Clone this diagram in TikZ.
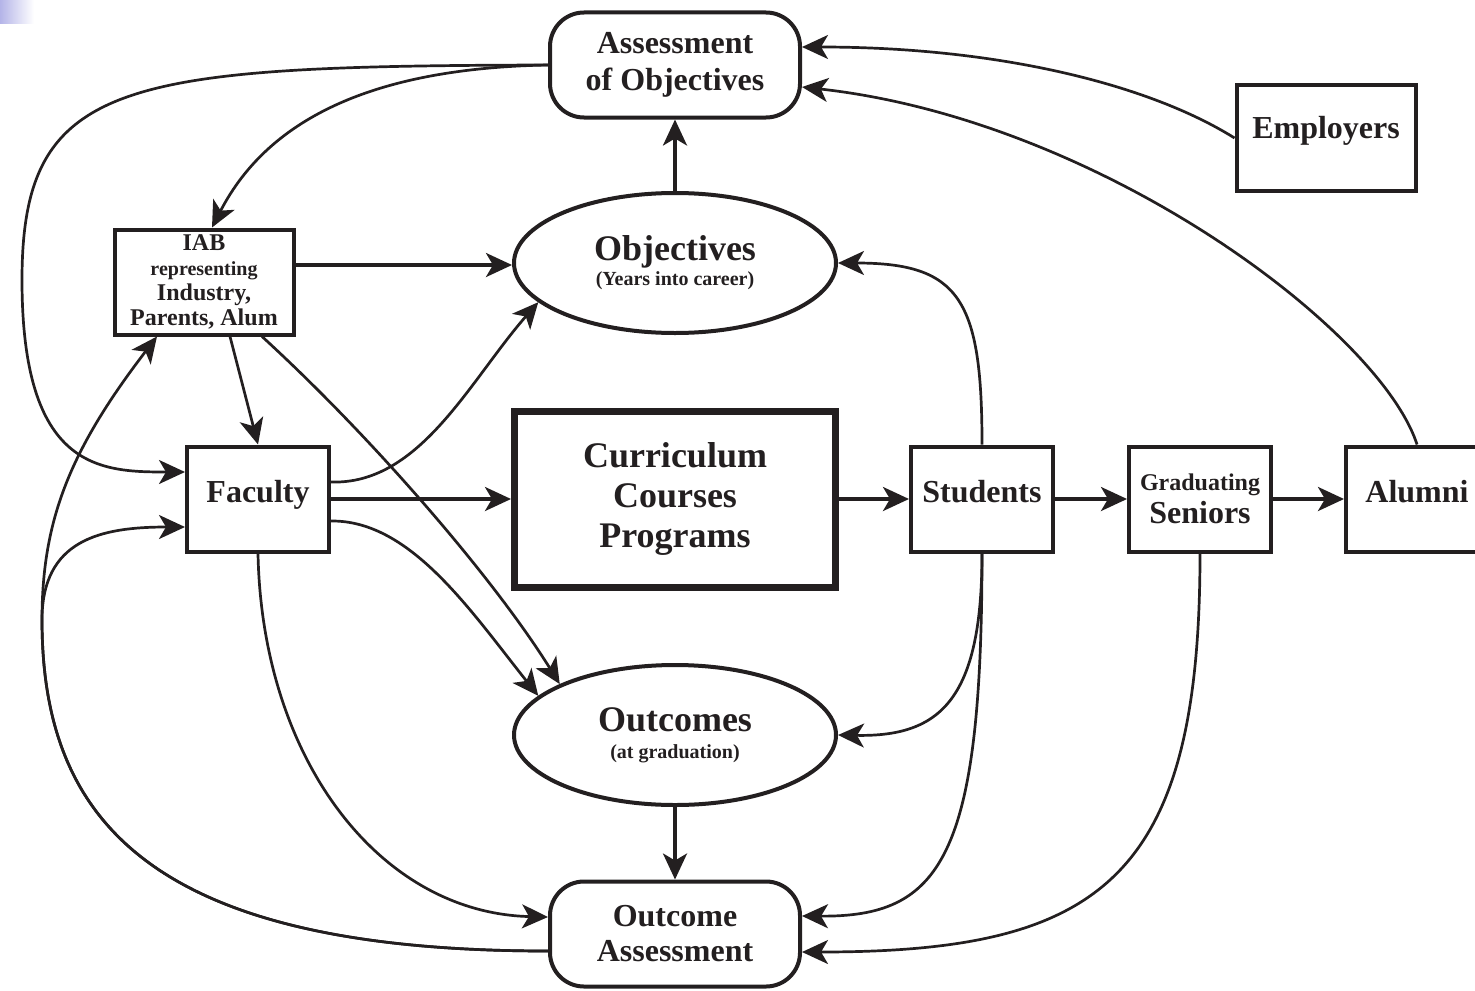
\documentclass[tikz,border=0pt]{standalone}
\usepackage{fontspec}
\setmainfont{Liberation Serif}
\usetikzlibrary{arrows.meta,shapes.geometric}
\definecolor{ink}{RGB}{35,31,32}
\definecolor{lav}{RGB}{180,180,232}
\begin{document}
\begin{tikzpicture}[x=0.5pt,y=-0.5pt,color=ink,
  box/.style={draw=ink,line width=2pt,inner sep=0pt,minimum height=52.5pt,align=center},
  sbox/.style={box,minimum width=71pt,font=\bfseries\fontsize{16}{18}\selectfont,text height=11pt,text depth=8pt},
  rbox/.style={box,rounded corners=17pt,minimum width=125pt},
  oval/.style={draw=ink,ellipse,line width=2pt,inner sep=0pt,minimum width=161pt,minimum height=70pt,align=center},
  arr/.style={-{Stealth[length=13pt,width=12pt,inset=3.5pt]}},
  conn/.style={arr,line width=1.35pt,draw=ink},
  sconn/.style={arr,line width=1.75pt,draw=ink}]
\clip (0,0) rectangle (1475,990);
\useasboundingbox (0,0) rectangle (1475,990);
\shade[left color=lav,right color=white] (0,0) rectangle (34,24);

% nodes
\node[rbox,font=\bfseries\fontsize{16}{18.5}\selectfont] (asmt) at (675,65) {Assessment\\of Objectives};
\node[box,minimum width=89.5pt,font=\bfseries\fontsize{16}{18}\selectfont,text height=11pt,text depth=11pt] (emp) at (1326,138) {Employers};
\node[box,minimum width=89.5pt,font=\bfseries\fontsize{12}{12.5}\selectfont] (iab) at (204,282) {IAB\\{\fontsize{10}{12}\selectfont representing}\\Industry,\\Parents, Alum};
\node[oval,font=\bfseries\fontsize{18}{12.5}\selectfont] (obj) at (675,263) {Objectives\\{\fontsize{10}{12}\selectfont (Years into career)}};
\node[sbox] (fac) at (258,499) {Faculty};
\node[box,line width=3.5pt,minimum width=160.5pt,minimum height=88pt,font=\bfseries\fontsize{18}{20}\selectfont] (cur) at (675,499) {Curriculum\\Courses\\Programs};
\node[sbox] (stu) at (982,499) {Students};
\node[box,minimum width=71pt,font=\bfseries\fontsize{16}{16.5}\selectfont] (sen) at (1200,499) {{\fontsize{12}{12}\selectfont Graduating}\\Seniors};
\node[sbox] (alu) at (1417,499) {Alumni};
\node[oval,font=\bfseries\fontsize{18}{13.5}\selectfont] (outc) at (675,735) {Outcomes\\{\fontsize{10}{12}\selectfont (at graduation)}};
\node[rbox,font=\bfseries\fontsize{16}{17.5}\selectfont] (oa) at (675,934) {Outcome\\Assessment};

\coordinate (lu) at (22,280);
\coordinate (lft) at (42,620);

% connectors
\draw[sconn] (obj.north) -- (asmt.south);
\draw[conn] (emp.west) .. controls (1150,85) and (1000,47) .. ([yshift=9pt]asmt.east);
\draw[conn] (alu.north) .. controls (1380,330) and (1100,120) .. ([yshift=-11pt]asmt.east);
\draw[conn] (asmt.west) .. controls (120,66) and (22,80) .. (lu) .. controls (22,470) and (100,472) .. ([yshift=13.5pt]fac.west);
\draw[conn] (asmt.west) .. controls (380,68) and (270,115) .. ([xshift=4pt]iab.north);
\draw[sconn] ([yshift=8.5pt]iab.east) -- ([yshift=8.5pt]iab.east -| obj.west);
\draw[conn] ([xshift=13pt]iab.south) -- (fac.north);
\draw[conn] ([xshift=29pt]iab.south) .. controls (375,440) and (495,580) .. (outc.north west);
\draw[conn] ([yshift=8.5pt]fac.east) .. controls (420,485) and (470,380) .. (obj.196);
\draw[sconn] (fac.east) -- (cur.west);
\draw[conn] ([yshift=-11pt]fac.east) .. controls (410,520) and (470,610) .. (outc.164);
\draw[conn] (fac.south) .. controls (262,760) and (380,913) .. ([yshift=8.5pt]oa.west);
\draw[conn] ([yshift=-8.5pt]oa.west) .. controls (150,951) and (42,820) .. (lft) .. controls (42,520) and (70,450) .. ([xshift=-23.5pt]iab.south);
\draw[conn] ([yshift=-8.5pt]oa.west) .. controls (150,951) and (42,820) .. (lft) .. controls (42,540) and (100,527) .. ([yshift=-14pt]fac.west);
\draw[conn] (stu.north) .. controls (982,300) and (960,263) .. (obj.east);
\draw[conn] (stu.south) .. controls (982,700) and (940,737) .. (outc.east);
\draw[conn] (stu.south) .. controls (982,860) and (940,917) .. ([yshift=9pt]oa.east);
\draw[conn] (sen.south) .. controls (1200,880) and (1100,952) .. ([yshift=-9pt]oa.east);
\draw[sconn] (cur.east) -- (stu.west);
\draw[sconn] (stu.east) -- (sen.west);
\draw[sconn] (sen.east) -- (alu.west);
\draw[sconn] (outc.south) -- (oa.north);
\end{tikzpicture}
\end{document}
